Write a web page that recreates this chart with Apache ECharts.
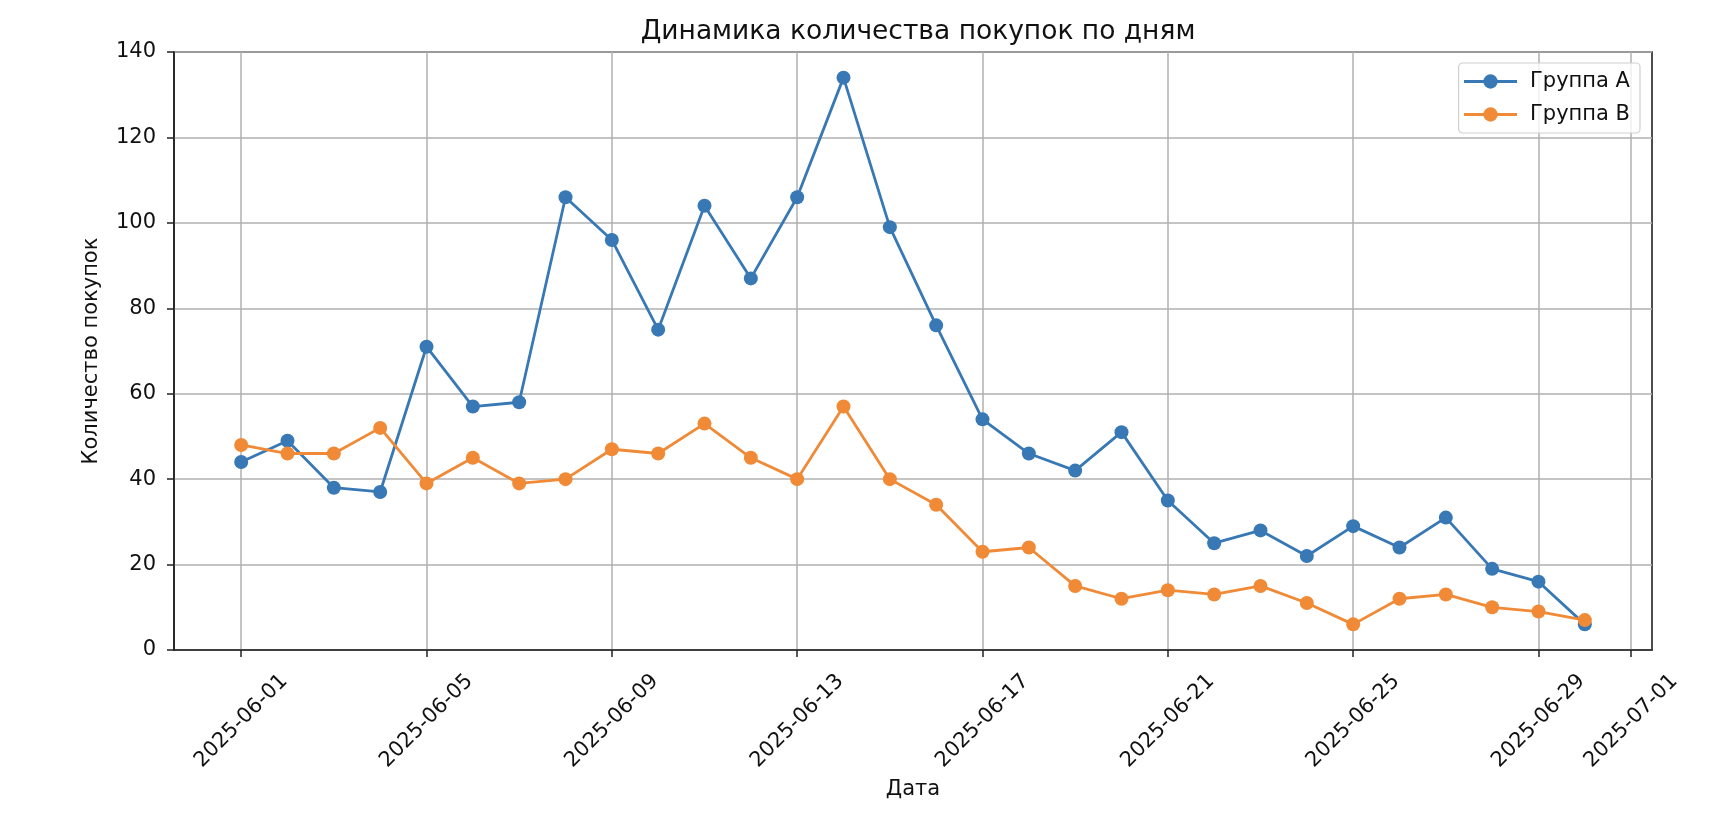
<!DOCTYPE html>
<html>
<head>
<meta charset="utf-8">
<script src="https://cdn.jsdelivr.net/npm/echarts@6/dist/echarts.min.js"></script>
<style>
  html, body { margin: 0; padding: 0; background: #fff; }
  #chart { width: 1721px; height: 832px; }
</style>
</head>
<body>
<div id="chart"></div>
<script>
var dates = [
    '2025-06-01', '2025-06-02', '2025-06-03', '2025-06-04', '2025-06-05',
    '2025-06-06', '2025-06-07', '2025-06-08', '2025-06-09', '2025-06-10',
    '2025-06-11', '2025-06-12', '2025-06-13', '2025-06-14', '2025-06-15',
    '2025-06-16', '2025-06-17', '2025-06-18', '2025-06-19', '2025-06-20',
    '2025-06-21', '2025-06-22', '2025-06-23', '2025-06-24', '2025-06-25',
    '2025-06-26', '2025-06-27', '2025-06-28', '2025-06-29', '2025-06-30'
];
var groupA = [44, 49, 38, 37, 71, 57, 58, 106, 96, 75, 104, 87, 106, 134, 99,
    76, 54, 46, 42, 51, 35, 25, 28, 22, 29, 24, 31, 19, 16, 6];
var groupB = [48, 46, 46, 52, 39, 45, 39, 40, 47, 46, 53, 45, 40, 57, 40,
    34, 23, 24, 15, 12, 14, 13, 15, 11, 6, 12, 13, 10, 9, 7];
var xTicks = ['2025-06-01', '2025-06-05', '2025-06-09', '2025-06-13', '2025-06-17',
    '2025-06-21', '2025-06-25', '2025-06-29', '2025-07-01'];

var DAY = 24 * 3600 * 1000;
var FONT = 'DejaVu Sans';

// days since first date (UTC, so no timezone drift)
function dayNum(s) {
    return (Date.UTC(+s.slice(0, 4), +s.slice(5, 7) - 1, +s.slice(8, 10)) -
        Date.UTC(+dates[0].slice(0, 4), +dates[0].slice(5, 7) - 1, +dates[0].slice(8, 10))) / DAY;
}

function pairs(values) {
    return values.map(function (v, i) { return [dayNum(dates[i]), v]; });
}

var tickValues = xTicks.map(dayNum);
var tickLabel = {};
xTicks.forEach(function (s) { tickLabel[dayNum(s)] = s; });

var xMin = dayNum(dates[0]) - 1.45;
var xMax = dayNum(dates[dates.length - 1]) + 1.45;

var myChart = echarts.init(document.getElementById('chart'));

var option = {
    backgroundColor: '#fff',
    animation: false,
    textStyle: {fontFamily: FONT},
    title: {
        text: 'Динамика количества покупок по дням',
        left: 913,
        top: 14,
        textAlign: 'center',
        textStyle: {fontFamily: FONT, fontSize: 26.5, fontWeight: 'normal', color: '#111'},
    },
    legend: {
        orient: 'vertical',
        right: 81,
        top: 63,
        padding: [8, 10, 8, 4],
        itemWidth: 53,
        itemHeight: 18,
        itemGap: 12,
        borderColor: '#d0d0d0',
        borderWidth: 1.2,
        borderRadius: 4,
        backgroundColor: 'rgba(255,255,255,0.8)',
        lineStyle: {width: 2.8},
        textStyle: {fontFamily: FONT, fontSize: 21, color: '#111', padding: [0, 0, 0, 8]},
        data: ['Группа A', 'Группа B'],
    },
    grid: {
        left: 174,
        right: 69,
        top: 52,
        bottom: 182,
        show: true,
        borderColor: '#222',
        borderWidth: 1.6,
    },
    xAxis: {
        type: 'value',
        min: xMin,
        max: xMax,
        name: 'Дата',
        nameLocation: 'middle',
        nameGap: 129,
        nameTextStyle: {fontFamily: FONT, fontSize: 21, color: '#111'},
        axisLine: {show: true, onZero: false, lineStyle: {color: '#222', width: 1.6}},
        axisTick: {show: true, length: 7, lineStyle: {color: '#222', width: 1.5}, customValues: tickValues},
        axisLabel: {
            customValues: tickValues,
            rotate: 45,
            align: 'center',
            verticalAlign: 'middle',
            margin: 71,
            fontFamily: FONT,
            fontSize: 21,
            color: '#111',
            formatter: function (value) {
                return tickLabel[Math.round(value)] || '';
            },
        },
        splitLine: {show: true, lineStyle: {color: '#b0b0b0', width: 1.5}},
    },
    yAxis: {
        type: 'value',
        min: 0,
        max: 140,
        interval: 20,
        name: 'Количество покупок',
        nameLocation: 'middle',
        nameGap: 72,
        nameTextStyle: {fontFamily: FONT, fontSize: 21, color: '#111'},
        axisLine: {show: true, onZero: false, lineStyle: {color: '#222', width: 1.6}},
        axisTick: {show: true, length: 7, lineStyle: {color: '#222', width: 1.5}},
        axisLabel: {fontFamily: FONT, fontSize: 21, color: '#111', margin: 18},
        splitLine: {show: true, lineStyle: {color: '#b0b0b0', width: 1.5}},
    },
    series: [
        {
            name: 'Группа A',
            type: 'line',
            data: pairs(groupA),
            symbol: 'circle',
            symbolSize: 14,
            lineStyle: {width: 2.8, color: '#3778b5'},
            itemStyle: {color: '#3778b5'},
        },
        {
            name: 'Группа B',
            type: 'line',
            data: pairs(groupB),
            symbol: 'circle',
            symbolSize: 14,
            lineStyle: {width: 2.8, color: '#f08a36'},
            itemStyle: {color: '#f08a36'},
        },
    ]
};

myChart.setOption(option);
</script>
</body>
</html>
